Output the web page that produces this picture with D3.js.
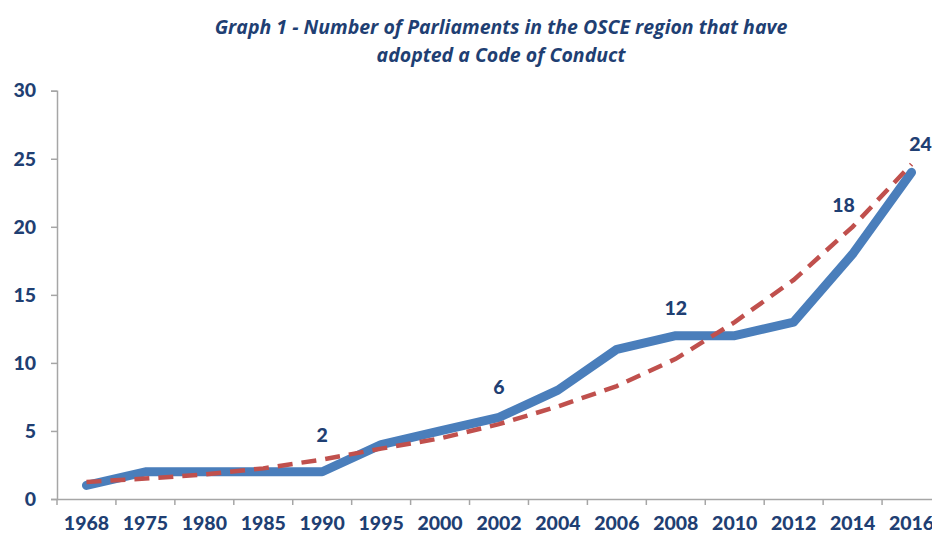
<!DOCTYPE html>
<html>
<head>
<meta charset="utf-8">
<script src="https://cdn.jsdelivr.net/npm/d3@7"></script>
<style>
  body { margin: 0; background: #fff; }
  svg { display: block; }
</style>
</head>
<body>
<svg id="chart" width="932" height="536"></svg>
<script>
'use strict'
// chart data
var years = ['1968','1975','1980','1985','1990','1995','2000','2002','2004','2006','2008','2010','2012','2014','2016'];
var parliaments = [1, 2, 2, 2, 2, 4, 5, 6, 8, 11, 12, 12, 13, 18, 24];
var trend = [1.25, 1.5, 1.8, 2.25, 2.9, 3.7, 4.45, 5.5, 6.8, 8.3, 10.3, 13.0, 16.1, 20.0, 24.6];
var labelledYears = ['1990','2002','2008','2014','2016'];
var yTicks = [0, 5, 10, 15, 20, 25, 30];
var titleLines = ['Graph 1 - Number of Parliaments in the OSCE region that have', 'adopted a Code of Conduct'];

var svg = d3.select('#chart');
var navy = '#1f3f73';

// scales - the plot runs slightly past the right edge like the original
var x = d3.scaleBand().domain(years).range([57, 941]);
var y = d3.scaleLinear().domain([0, 30]).range([499, 90.7]);
function cx(d){ return x(d) + x.bandwidth() / 2; }

// title
svg.append('g').selectAll('text')
	.data(titleLines).enter()
	.append('text')
	.attr('x', 501)
	.attr('y', function(d, i){ return 34 + i * 28; })
	.attr('text-anchor', 'middle')
	.style('font-family', '"Open Sans", sans-serif')
	.style('font-size', '19.5px')
	.style('font-weight', 'bold')
	.style('font-style', 'italic')
	.attr('fill', navy)
	.text(function(d){ return d; });

// axes
var yAxis = svg.append('g')
	.attr('transform', 'translate(57,0)')
	.call(d3.axisLeft(y).tickValues(yTicks).tickSize(6).tickPadding(15));

var xAxis = svg.append('g')
	.attr('transform', 'translate(0,499)')
	.call(d3.axisBottom(x).tickSize(0).tickPadding(17));

// x ticks sit between the categories
xAxis.selectAll('.bound')
	.data(years).enter()
	.append('line')
	.attr('x1', function(d){ return x(d); })
	.attr('x2', function(d){ return x(d); })
	.attr('y1', 0).attr('y2', 6);

[yAxis, xAxis].forEach(function(g){
	g.select('.domain').attr('stroke', '#a6a6a6').attr('stroke-width', 1.5);
	g.selectAll('line').attr('stroke', '#a6a6a6').attr('stroke-width', 1.5);
	g.selectAll('text')
		.attr('fill', navy)
		.style('font-family', 'Lato, sans-serif')
		.style('font-size', '19.5px')
		.style('font-weight', 900);
});

// main line
var line = d3.line()
	.x(function(d, i){ return cx(years[i]); })
	.y(function(d){ return y(d); });

svg.append('path')
	.datum(parliaments)
	.attr('d', line)
	.attr('fill', 'none')
	.attr('stroke', '#4a7ebb')
	.attr('stroke-width', 9)
	.attr('stroke-linejoin', 'round')
	.attr('stroke-linecap', 'round');

// exponential trend line
svg.append('path')
	.datum(trend)
	.attr('d', line)
	.attr('fill', 'none')
	.attr('stroke', '#c0504d')
	.attr('stroke-width', 4.5)
	.attr('stroke-dasharray', '15,9');

// data labels (offsets picked by eye from the original)
var labelOffset = { '1990': [0, -30], '2002': [0, -23], '2008': [0, -21], '2014': [-9, -42], '2016': [9, -21] };
svg.append('g').selectAll('text')
	.data(labelledYears).enter()
	.append('text')
	.attr('x', function(d){ return cx(d) + labelOffset[d][0]; })
	.attr('y', function(d){ return y(parliaments[years.indexOf(d)]) + labelOffset[d][1]; })
	.attr('text-anchor', 'middle')
	.attr('fill', navy)
	.style('font-family', 'Lato, sans-serif')
	.style('font-size', '19.5px')
	.style('font-weight', 900)
	.text(function(d){ return parliaments[years.indexOf(d)]; });
</script>
</body>
</html>
